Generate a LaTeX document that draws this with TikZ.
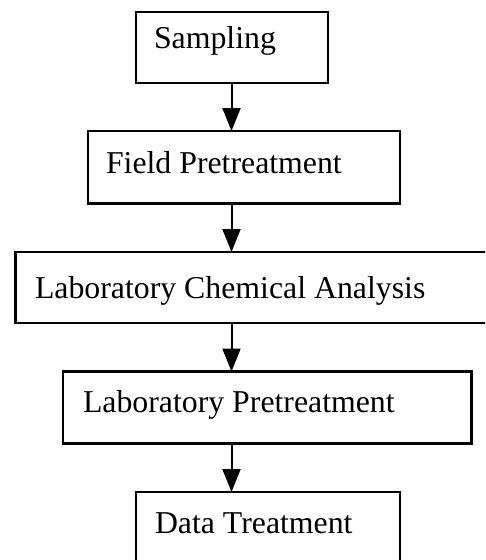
\documentclass[tikz,border=0pt]{standalone}
\usepackage{fontspec}
\setmainfont{Liberation Serif}
\usetikzlibrary{arrows.meta}
\begin{document}
\begin{tikzpicture}[x=1pt,y=-1pt,
  box/.style={draw=black,line width=2.2pt,rectangle,inner sep=0pt,outer sep=0pt},
  lbl/.style={anchor=base west,inner sep=0pt,outer sep=0pt,font=\fontsize{31.8pt}{38pt}\selectfont},
  arr/.style={line width=2pt,-{Triangle[length=23pt,width=18pt]}}]
\useasboundingbox (0,0) rectangle (485,560);
\clip (0,0) rectangle (485,560);
\coordinate (ax) at (231.5,0);
\node[box,minimum width=192pt,minimum height=71pt] (S) at (232,47.5) {};
\node[box,minimum width=312pt,minimum height=72.5pt] (F) at (244,167.25) {};
\node[box,minimum width=484.5pt,minimum height=71pt] (L) at (257.75,287.5) {};
\node[box,minimum width=408.5pt,minimum height=72pt] (P) at (267.25,407.5) {};
\node[box,minimum width=264pt,minimum height=88pt] (D) at (268,536) {};
\node[lbl] (tS) at (154,48.3) {Sampling};
\node[lbl] (tF) at (106,173.3) {Field Pretreatment};
\node[lbl] (tL) at (35,298.3) {Laboratory Chemical Analysis};
\node[lbl] (tP) at (83,412.7) {Laboratory Pretreatment};
\node[lbl] (tD) at (155,533) {Data Treatment};
\draw[arr] (S.south -| ax) -- (F.north -| ax);
\draw[arr] (F.south -| ax) -- (L.north -| ax);
\draw[arr] (L.south -| ax) -- (P.north -| ax);
\draw[arr] (P.south -| ax) -- (D.north -| ax);
\end{tikzpicture}
\end{document}
